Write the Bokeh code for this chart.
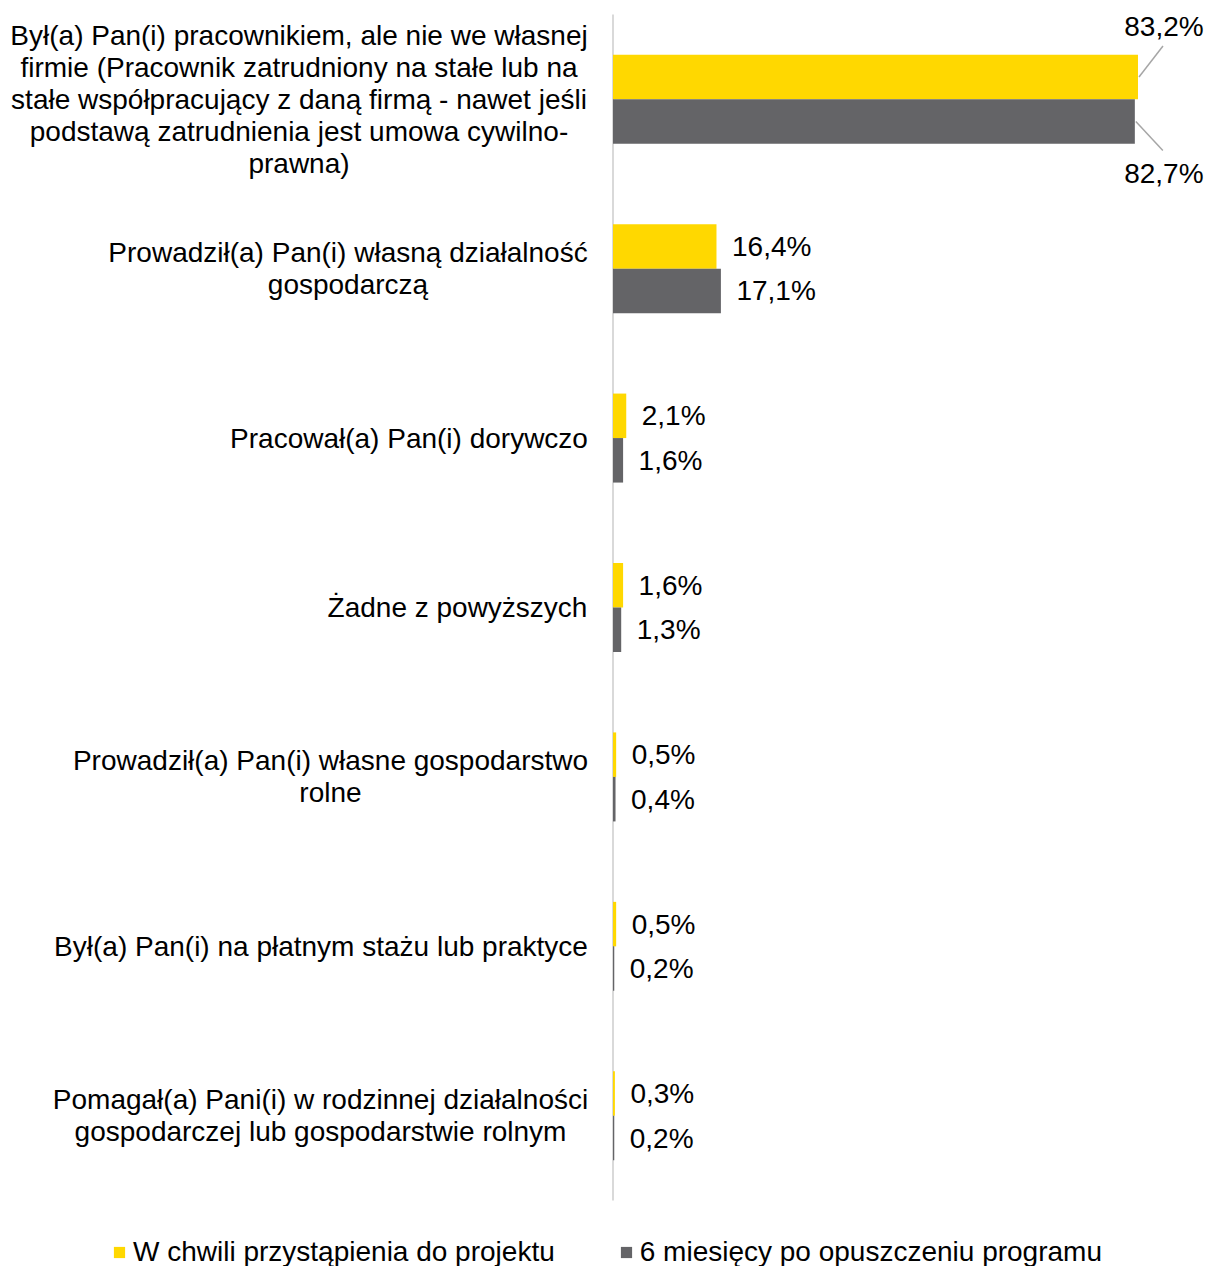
from bokeh.plotting import figure
from bokeh.models import ColumnDataSource, Range1d, Legend, LegendItem
from bokeh.core.properties import value
from bokeh.embed import file_html
from bokeh.resources import INLINE

# ---------------- data ----------------
categories = [
    "Był(a) Pan(i) pracownikiem, ale nie we własnej\nfirmie (Pracownik zatrudniony na stałe lub na\nstałe współpracujący z daną firmą - nawet jeśli\npodstawą zatrudnienia jest umowa cywilno-\nprawna)",
    "Prowadził(a) Pan(i) własną działalność\ngospodarczą",
    "Pracował(a) Pan(i) dorywczo",
    "Żadne z powyższych",
    "Prowadził(a) Pan(i) własne gospodarstwo\nrolne",
    "Był(a) Pan(i) na płatnym stażu lub praktyce",
    "Pomagał(a) Pani(i) w rodzinnej działalności\ngospodarczej lub gospodarstwie rolnym",
]
series_names = ["W chwili przystąpienia do projektu", "6 miesięcy po opuszczeniu programu"]
at_start = [83.2, 16.4, 2.1, 1.6, 0.5, 0.5, 0.3]
after_6m = [82.7, 17.1, 1.6, 1.3, 0.4, 0.2, 0.2]

# ---------------- style / layout ----------------
FONT = "Liberation Sans"
FS = "28px"
YELLOW = "#FFD800"
GREY = "#646467"
W, H = 1207, 1266
zero_px = 612.5          # x pixel of value 0 inside the figure
sx = 6.31                # px per percent
top_px, bot_px = 14, 1200  # category band extent (figure px)
n = len(categories)
sy = (bot_px - top_px) / n
bar_h_px = 44.5
off = 22.25 / sy
bh = bar_h_px / sy

x_start = -zero_px / sx
x_end = (W - zero_px) / sx
y_end = n + top_px / sy
y_start = -(H - bot_px) / sy

def X(px):
    return x_start + px / sx

# horizontal centres (figure px) of the category text blocks
label_cx = [298.5, 347.5, 408.5, 457, 330, 320.5, 320]

p = figure(width=W, height=H, output_backend="svg", toolbar_location=None,
           x_range=Range1d(x_start, x_end), y_range=Range1d(y_start, y_end),
           x_axis_location=None, y_axis_location=None,
           min_border=0, min_border_left=0, min_border_right=0,
           min_border_top=0, min_border_bottom=0)
p.outline_line_color = None
p.xgrid.visible = False
p.ygrid.visible = False
p.background_fill_color = "white"

cy = [n - (i + 0.5) for i in range(n)]
y_a = [c + off for c in cy]
y_b = [c - off for c in cy]

# vertical axis line
p.segment(x0=[0], y0=[0], x1=[0], y1=[n], line_color="#D9D9D9", line_width=2)

src_a = ColumnDataSource(dict(y=y_a, v=at_start))
src_b = ColumnDataSource(dict(y=y_b, v=after_6m))

r_a = p.hbar(y="y", left=0, right="v", height=bh, source=src_a,
             fill_color=YELLOW, line_color=None)
r_b = p.hbar(y="y", left=0, right="v", height=bh, source=src_b,
             fill_color=GREY, line_color=None)

# data labels: normal ones to the right of bars, large ones as callouts
LIMIT = 70
def split(vals, ys):
    normal = dict(x=[], y=[], t=[])
    big = dict(x=[], y=[], t=[])
    for v, y in zip(vals, ys):
        t = f"{v:.1f}".replace(".", ",") + "%"
        d = big if v > LIMIT else normal
        d["x"].append(v); d["y"].append(y); d["t"].append(t)
    return normal, big

na, ba = split(at_start, y_a)
nb, bb = split(after_6m, y_b)

for d in (na, nb):
    p.text(x=d["x"], y=d["y"], text=d["t"], x_offset=15.5,
           text_font=value(FONT), text_font_size=FS, text_color="#000000",
           text_align="left", text_baseline="middle")

# callouts with leader lines
p.segment(x0=[v + 1 / sx for v in ba["x"]], y0=ba["y"],
          x1=[v + 25 / sx for v in ba["x"]], y1=[y + 31 / sy for y in ba["y"]],
          line_color="#A6A6A6", line_width=1.5)
p.segment(x0=[v + 1 / sx for v in bb["x"]], y0=bb["y"],
          x1=[v + 28 / sx for v in bb["x"]], y1=[y - 29 / sy for y in bb["y"]],
          line_color="#A6A6A6", line_width=1.5)
p.text(x=ba["x"], y=ba["y"], text=ba["t"], x_offset=26, y_offset=-50,
       text_font=value(FONT), text_font_size=FS, text_color="#000000",
       text_align="center", text_baseline="middle")
p.text(x=bb["x"], y=bb["y"], text=bb["t"], x_offset=29, y_offset=52,
       text_font=value(FONT), text_font_size=FS, text_color="#000000",
       text_align="center", text_baseline="middle")

# category labels
p.text(x=[X(c) for c in label_cx], y=cy, text=categories,
       text_font=value(FONT), text_font_size=FS, text_color="#000000",
       text_align="center", text_baseline="middle", text_line_height=1.035)

legend = Legend(items=[LegendItem(label=series_names[0], renderers=[r_a]),
                       LegendItem(label=series_names[1], renderers=[r_b])],
                location=(112, -2), orientation="horizontal",
                glyph_width=14, glyph_height=14, label_standoff=7, spacing=64,
                padding=0, margin=0, border_line_color=None,
                background_fill_alpha=0,
                label_text_font=FONT, label_text_font_size=FS,
                label_text_color="#000000")
p.add_layout(legend)

open("out.html", "w").write(file_html(p, INLINE))
